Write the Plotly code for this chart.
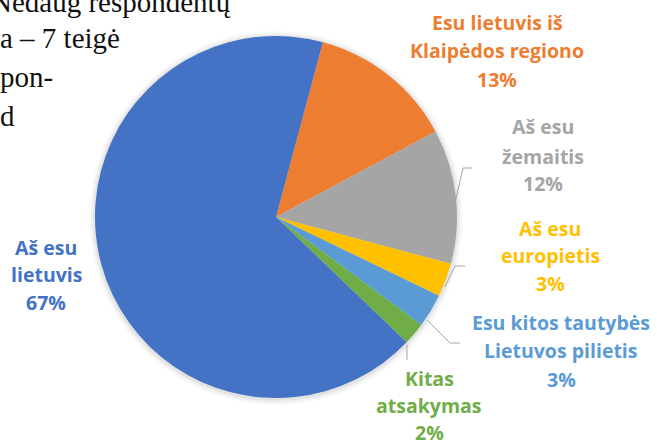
import plotly.graph_objects as go

W, H = 657, 443

# Data
categories = ["Esu lietuvis iš Klaipėdos regiono", "Aš esu žemaitis", "Aš esu europietis",
              "Esu kitos tautybės Lietuvos pilietis", "Kitas atsakymas", "Aš esu lietuvis"]
values = [13, 12, 3, 3, 2, 67]
colors = ["#ED7D31", "#A5A5A5", "#FFC000", "#5B9BD5", "#70AD47", "#4472C4"]
label_lines = [
    ["Esu lietuvis iš", "Klaipėdos regiono", "13%"],
    ["Aš esu", "žemaitis", "12%"],
    ["Aš esu", "europietis", "3%"],
    ["Esu kitos tautybės", "Lietuvos pilietis", "3%"],
    ["Kitas", "atsakymas", "2%"],
    ["Aš esu", "lietuvis", "67%"],
]
body_lines = ["Nedaug respondentų", "a – 7 teigė", "pon-", "d"]


def px(x):
    return x / W


def py(y):
    return 1 - y / H


fig = go.Figure()

# soft shadow rings behind the pie
cx, cy, r = 276, 217, 181
for extra, alpha in [(6, 0.025), (4, 0.035), (2, 0.05)]:
    fig.add_trace(go.Pie(
        values=[1], sort=False, textinfo="none", hoverinfo="skip", showlegend=False,
        marker=dict(colors=[f"rgba(0,0,0,{alpha})"], line=dict(width=0)),
        domain=dict(x=[px(cx - r - extra), px(cx + r + extra)],
                    y=[py(cy + r + extra + 1), py(cy - r - extra + 1)]),
    ))

fig.add_trace(go.Pie(
    labels=categories, values=values, sort=False, direction="clockwise", rotation=15,
    marker=dict(colors=colors, line=dict(width=0)), textinfo="none", hoverinfo="label+percent",
    showlegend=False,
    domain=dict(x=[px(cx - r), px(cx + r)], y=[py(cy + r), py(cy - r)]),
))

# label layout (centres in px)
label_x = [497, 543, 550, 561, 429, 46]
label_y = [[22, 51, 79], [127, 156, 183], [228, 256, 283], [322, 350, 379], [378, 405, 432], [247, 274, 302]]

annotations = []
for lines, lx, ys, col in zip(label_lines, label_x, label_y, colors):
    for t, yy in zip(lines, ys):
        annotations.append(dict(
            x=px(lx), y=py(yy), xref="paper", yref="paper", text=t, showarrow=False,
            xanchor="center", yanchor="middle",
            font=dict(family="Open Sans", size=19.5, color=col, weight="bold")))

# body text
body_pos = [(233, 12, "right"), (0, 48, "left"), (0, 87, "left"), (0, 126, "left")]
for t, (bx, by, anc) in zip(body_lines, body_pos):
    annotations.append(dict(
        x=px(bx), y=py(by - 10), xref="paper", yref="paper", text=t, showarrow=False,
        xanchor=anc, yanchor="middle", xshift=-2 if anc == "left" else 0,
        font=dict(family="Liberation Serif", size=29, color="#111111")))

# leader lines
leaders = [
    [(455, 203), (463, 168), (472, 168)],
    [(445, 287), (455, 266), (465, 266)],
    [(427, 320), (450, 343), (460, 343)],
    [(407, 345), (407, 360)],
]
shapes = []
for pts in leaders:
    path = "M " + " L ".join(f"{px(a)},{py(b)}" for a, b in pts)
    shapes.append(dict(type="path", path=path, xref="paper", yref="paper",
                       line=dict(color="#A6A6A6", width=1)))

fig.update_layout(
    width=W, height=H, margin=dict(l=0, r=0, t=0, b=0),
    paper_bgcolor="white", plot_bgcolor="white",
    annotations=annotations, shapes=shapes,
)

fig.write_html("out.html", post_script="document.body.style.margin='0';",
               config={"displayModeBar": False})
